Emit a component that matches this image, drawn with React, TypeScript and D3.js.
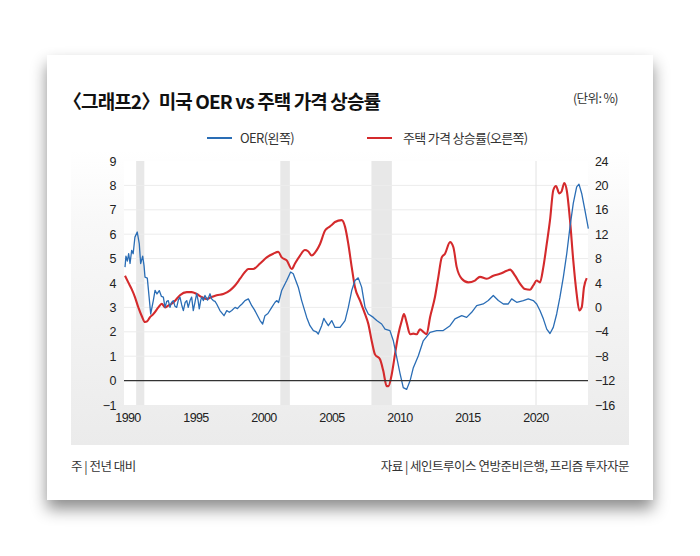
import React from "react";
import * as d3 from "d3";

const oerData: [number, number][] = [
  [1989.78,4.65],[1989.85,5.1],[1989.95,4.9],[1990.05,5.2],[1990.15,4.8],[1990.27,5.34],[1990.38,5.2],[1990.51,5.88],[1990.68,6.09],[1990.83,5.6],[1990.93,4.8],[1991.08,5.1],[1991.18,4.7],[1991.25,4.24],[1991.42,4.2],[1991.67,2.73],[1991.86,3.28],[1991.99,3.7],[1992.13,3.55],[1992.3,3.69],[1992.46,3.45],[1992.6,3.42],[1992.72,3.0],[1992.85,3.25],[1992.96,3.28],[1993.09,3.0],[1993.2,3.2],[1993.33,3.28],[1993.45,3.05],[1993.58,3.0],[1993.7,3.3],[1993.82,3.42],[1993.95,3.1],[1994.07,2.87],[1994.2,3.2],[1994.32,3.28],[1994.43,3.0],[1994.56,3.28],[1994.68,3.42],[1994.8,2.87],[1994.92,3.2],[1995.05,3.56],[1995.15,3.3],[1995.24,2.94],[1995.35,3.3],[1995.42,3.42],[1995.54,3.28],[1995.66,3.49],[1995.85,3.3],[1996.03,3.56],[1996.15,3.35],[1996.27,3.28],[1996.4,3.25],[1996.52,3.14],[1996.76,2.87],[1997.06,2.66],[1997.26,2.87],[1997.45,2.8],[1997.63,2.87],[1997.87,3.0],[1998.05,2.95],[1998.24,3.07],[1998.4,3.15],[1998.6,3.28],[1998.85,3.35],[1999.1,3.07],[1999.3,2.9],[1999.46,2.73],[1999.71,2.46],[1999.9,2.32],[2000.07,2.66],[2000.29,2.75],[2000.57,3.0],[2000.8,3.2],[2000.93,3.28],[2001.07,3.2],[2001.3,3.69],[2001.67,4.1],[2001.96,4.45],[2002.15,4.38],[2002.52,3.83],[2002.77,3.28],[2003.14,2.59],[2003.38,2.25],[2003.63,2.05],[2003.85,2.0],[2003.99,1.91],[2004.24,2.25],[2004.4,2.55],[2004.49,2.46],[2004.73,2.25],[2004.98,2.46],[2005.22,2.18],[2005.59,2.18],[2005.96,2.46],[2006.2,3.0],[2006.45,3.69],[2006.69,4.1],[2006.93,4.21],[2007.18,3.83],[2007.43,3.0],[2007.67,2.73],[2008.04,2.59],[2008.29,2.46],[2008.65,2.32],[2008.9,2.11],[2009.26,2.05],[2009.51,1.63],[2009.76,0.95],[2010.0,0.3],[2010.24,-0.29],[2010.49,-0.36],[2010.74,-0.01],[2010.98,0.53],[2011.35,1.02],[2011.71,1.63],[2012.21,1.98],[2012.7,2.05],[2013.18,2.05],[2013.68,2.25],[2014.04,2.53],[2014.54,2.66],[2014.9,2.59],[2015.27,2.8],[2015.64,3.07],[2016.12,3.14],[2016.49,3.28],[2016.86,3.49],[2017.23,3.28],[2017.6,3.14],[2017.96,3.14],[2018.21,3.35],[2018.58,3.21],[2019.07,3.28],[2019.43,3.35],[2019.8,3.28],[2020.05,3.14],[2020.29,2.87],[2020.54,2.53],[2020.79,2.11],[2021.03,1.93],[2021.27,2.18],[2021.52,2.73],[2021.76,3.42],[2022.01,4.24],[2022.26,5.2],[2022.5,6.3],[2022.74,7.26],[2022.99,7.94],[2023.16,8.05],[2023.36,7.67],[2023.6,6.98],[2023.85,6.23],
];

const hpiData: [number, number][] = [
  [1989.78,5.2],[1990.02,4.1],[1990.27,3.0],[1990.51,1.7],[1990.76,0.0],[1991.01,-1.4],[1991.25,-2.4],[1991.4,-2.3],[1991.62,-1.6],[1991.86,-1.1],[1992.23,0],[1992.48,0.6],[1992.72,0],[1992.96,0.3],[1993.21,0.6],[1993.46,1.1],[1993.82,2.0],[1994.32,2.5],[1994.68,2.5],[1995.05,2.2],[1995.42,1.7],[1995.79,1.4],[1996.15,1.7],[1996.52,2.0],[1997.01,2.2],[1997.5,2.8],[1997.87,3.6],[1998.24,4.7],[1998.6,5.8],[1998.85,6.3],[1999.21,6.3],[1999.71,7.2],[2000.2,8.2],[2000.68,8.8],[2001.05,9.1],[2001.3,8.2],[2001.67,7.7],[2002.04,6.3],[2002.28,7.2],[2002.65,8.5],[2003.01,9.4],[2003.24,9.2],[2003.51,8.5],[2003.88,9.4],[2004.12,10.4],[2004.49,12.6],[2004.73,13.1],[2004.98,13.5],[2005.22,14.0],[2005.71,14.3],[2005.96,13.2],[2006.2,10.4],[2006.45,6.6],[2006.69,3.3],[2007.06,1.1],[2007.43,-1.1],[2007.67,-2.7],[2007.92,-5.5],[2008.16,-7.7],[2008.53,-8.5],[2008.77,-10.4],[2009.02,-12.9],[2009.15,-12.9],[2009.39,-11.0],[2009.63,-7.7],[2009.88,-4.4],[2010.13,-2.2],[2010.29,-1.1],[2010.49,-2.5],[2010.74,-4.4],[2010.98,-4.3],[2011.23,-4.4],[2011.47,-3.6],[2011.71,-4.0],[2011.96,-4.4],[2012.21,-1.6],[2012.57,1.7],[2012.82,5.0],[2013.07,8.2],[2013.31,8.8],[2013.68,10.7],[2013.92,9.9],[2014.17,6.6],[2014.54,4.7],[2015.02,4.1],[2015.51,4.4],[2015.88,5.0],[2016.38,4.7],[2016.86,5.2],[2017.35,5.5],[2017.85,6.0],[2018.09,6.2],[2018.46,5.2],[2018.82,3.9],[2019.19,3.0],[2019.56,2.9],[2019.8,3.6],[2020.05,4.4],[2020.29,4.1],[2020.54,6.6],[2020.79,10.4],[2021.03,14.3],[2021.27,19.2],[2021.47,19.9],[2021.71,18.7],[2021.88,19.0],[2022.08,20.4],[2022.26,19.2],[2022.5,14.3],[2022.74,7.7],[2022.99,2.2],[2023.18,-0.5],[2023.36,0],[2023.53,3.3],[2023.73,4.8],
];

const recessions: [number, number][] = [[1990.6, 1991.2], [2001.2, 2001.9], [2007.9, 2009.4]];
const leftTicks = [9, 8, 7, 6, 5, 4, 3, 2, 1, 0, -1];
const rightTicks = [24, 20, 16, 12, 8, 4, 0, -4, -8, -12, -16];
const yearTicks = [1990, 1995, 2000, 2005, 2010, 2015, 2020];

const titleParts = ["〈그래프2〉", " 미국 OER vs 주택 가격 상승률"];
const unitLabel = "(단위: %)";
const legendOer = "OER(왼쪽)";
const legendHpi = "주택 가격 상승률(오른쪽)";
const noteText = "주 | 전년 대비";
const sourceText = "자료 |  세인트루이스 연방준비은행, 프리즘 투자자문";

const BLUE = "#2a6db5";
const RED = "#d42a2c";
const KR = "'Noto Sans CJK KR', 'Noto Sans', sans-serif";
const NUM = "'Liberation Sans', Arial, sans-serif";

const fmt = (v: number) => (v < 0 ? "\u2212" + Math.abs(v) : String(v));

export default function App() {
  const plotL = 124, plotR = 588, plotT = 161, plotB = 405;
  const x = d3.scaleLinear().domain([1990, 2020]).range([128, 536]);
  const yL = d3.scaleLinear().domain([-1, 9]).range([plotB, plotT]);
  const yR = d3.scaleLinear().domain([-16, 24]).range([plotB, plotT]);

  const oerLine = d3.line<[number, number]>().x(d => x(d[0])).y(d => yL(d[1]));
  const hpiLine = d3.line<[number, number]>().x(d => x(d[0])).y(d => yR(d[1])).curve(d3.curveMonotoneX);

  return (
    <svg width={700} height={556} style={{ position: "absolute", left: 0, top: 0, background: "#fff" }}>
      <defs>
        <filter id="sh" x="-10%" y="-10%" width="120%" height="130%">
          <feDropShadow dx="0" dy="9" stdDeviation="8" floodColor="#000" floodOpacity="0.45" />
        </filter>
        <linearGradient id="panel" x1="0" y1="0" x2="0" y2="1">
          <stop offset="0" stopColor="#ffffff" />
          <stop offset="0.25" stopColor="#f8f8f8" />
          <stop offset="1" stopColor="#ebebeb" />
        </linearGradient>
      </defs>
      <rect x={47} y={55} width={606} height={445} fill="#fff" filter="url(#sh)" />
      <rect x={71} y={150} width={558} height={295} fill="url(#panel)" />
      <rect x={plotL} y={plotT} width={plotR - plotL} height={plotB - plotT} fill="#fff" />

      {/* title */}
      <text x={63} y={109} fontFamily={KR} fontWeight={700} fontSize={19} letterSpacing={-0.9} fill="#111">
        <tspan>{titleParts[0]}</tspan>
        <tspan dx={-4}>{titleParts[1]}</tspan>
      </text>
      <text x={618} y={103} textAnchor="end" fontFamily={KR} fontSize={12.5} letterSpacing={-0.6} fill="#333">{unitLabel}</text>

      {/* legend */}
      <line x1={207} x2={232} y1={138} y2={138} stroke={BLUE} strokeWidth={2} />
      <text x={240} y={143} fontFamily={KR} fontSize={13} letterSpacing={-0.6} fill="#333">{legendOer}</text>
      <line x1={367} x2={392} y1={138} y2={138} stroke={RED} strokeWidth={2} />
      <text x={403} y={143} fontFamily={KR} fontSize={13} letterSpacing={-0.7} fill="#333">{legendHpi}</text>

      {/* recession shading */}
      {recessions.map((r, i) => (
        <rect key={i} x={x(r[0])} y={plotT} width={x(r[1]) - x(r[0])} height={plotB - plotT} fill="#e8e8e8" />
      ))}

      {/* grid */}
      {leftTicks.filter(t => t > 0 && t < 9).map(t => (
        <line key={t} x1={plotL} x2={plotR} y1={yL(t)} y2={yL(t)} stroke="#ececec" strokeWidth={1} />
      ))}
      <line x1={x(2020)} x2={x(2020)} y1={plotT} y2={plotB} stroke="#e2e2e2" strokeWidth={1} />

      {/* lines */}
      <path d={hpiLine(hpiData) || ""} fill="none" stroke={RED} strokeWidth={2.1} strokeLinejoin="round" />
      <path d={oerLine(oerData) || ""} fill="none" stroke={BLUE} strokeWidth={1.3} strokeLinejoin="round" />

      <line x1={plotL} x2={plotR} y1={yL(0)} y2={yL(0)} stroke="#333" strokeWidth={1.1} />

      {/* axes labels */}
      {leftTicks.map(t => (
        <text key={t} x={116} y={yL(t) + 4.5} textAnchor="end" fontFamily={NUM} fontSize={12.5} letterSpacing={-0.5} fill="#222">{fmt(t)}</text>
      ))}
      {rightTicks.map(t => (
        <text key={t} x={595} y={yR(t) + 4.5} textAnchor="start" fontFamily={NUM} fontSize={12.5} letterSpacing={-0.5} fill="#222">{fmt(t)}</text>
      ))}
      {yearTicks.map(t => (
        <text key={t} x={x(t)} y={422} textAnchor="middle" fontFamily={NUM} fontSize={12.5} letterSpacing={-0.6} fill="#222">{t}</text>
      ))}

      {/* footer */}
      <text x={71} y={471} fontFamily={KR} fontSize={12.5} letterSpacing={-0.5} fill="#333">{noteText}</text>
      <text x={629} y={471} textAnchor="end" fontFamily={KR} fontSize={12.5} letterSpacing={-0.5} fill="#333">{sourceText}</text>
    </svg>
  );
}
